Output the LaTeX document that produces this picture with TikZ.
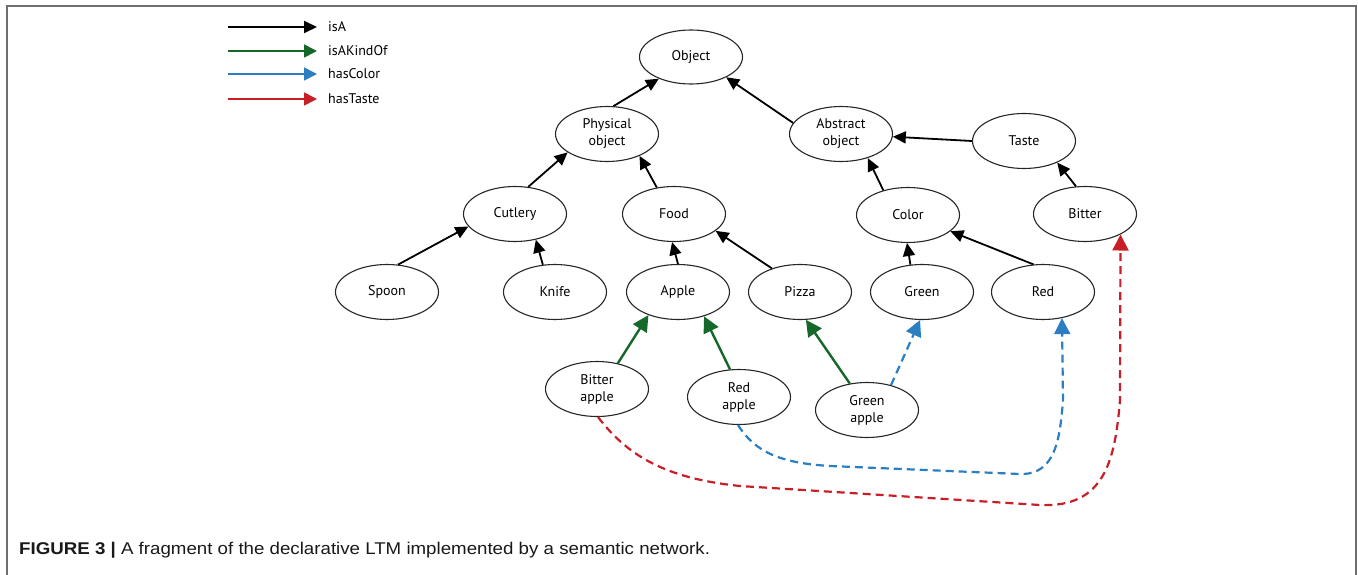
\documentclass[tikz,border=0pt]{standalone}
\usepackage{fontspec}
\setsansfont{PT Sans}
\newfontfamily\capfont{Liberation Sans}
\usetikzlibrary{arrows.meta,shapes.geometric}
\definecolor{kgreen}{RGB}{22,104,42}
\definecolor{kblue}{RGB}{43,126,193}
\definecolor{kred}{RGB}{200,30,38}
\definecolor{kframe}{RGB}{110,110,110}
\begin{document}
\begin{tikzpicture}[x=1pt,y=-1pt,
  concept/.style={ellipse,draw=black!85,line width=1.1pt,minimum width=103pt,minimum height=55pt,inner sep=0pt,font=\sffamily\fontsize{14}{17}\selectfont,align=center},
  legtext/.style={anchor=west,inner sep=0pt,font=\sffamily\fontsize{14}{17}\selectfont},
  isa/.style={line width=1.8pt,-{Triangle[length=13pt,width=12pt]}},
  kind/.style={kgreen,line width=2.4pt,-{Triangle[length=16pt,width=16pt]}},
  colorline/.style={kblue,line width=2.2pt,-{Triangle[length=16pt,width=16pt]}},
  tasteline/.style={kred,line width=2.2pt,-{Triangle[length=16pt,width=16pt]}},
  dashline/.style={dash pattern=on 8pt off 5pt}
]
\useasboundingbox (0,0) rectangle (1358,575);
\draw[kframe,line width=1.5pt] (7,575) -- (7,6) -- (1356,6) -- (1356,575);

% legend
\coordinate (la1) at (228,27);  \coordinate (lb1) at (317,27);
\coordinate (la2) at (228,51);  \coordinate (lb2) at (317,51);
\coordinate (la3) at (228,74);  \coordinate (lb3) at (317,74);
\coordinate (la4) at (228,99);  \coordinate (lb4) at (317,99);
\draw[isa] (la1) -- (lb1);
\draw[kind,line width=1.8pt,-{Triangle[length=13pt,width=13pt]}] (la2) -- (lb2);
\draw[colorline,line width=1.8pt,-{Triangle[length=13pt,width=13pt]}] (la3) -- (lb3);
\draw[tasteline,line width=1.8pt,-{Triangle[length=13pt,width=13pt]}] (la4) -- (lb4);
\node[legtext] (lt1) at (328,27) {isA};
\node[legtext] (lt2) at (328,51) {isAKindOf};
\node[legtext] (lt3) at (328,74) {hasColor};
\node[legtext] (lt4) at (328,99) {hasTaste};

% nodes
\node[concept,minimum height=54pt] (obj) at (691,57) {Object};
\node[concept] (po) at (607,134) {Physical\\object};
\node[concept] (ao) at (841,134) {Abstract\\object};
\node[concept] (taste) at (1024,141) {Taste};
\node[concept] (cut) at (515,214) {Cutlery};
\node[concept] (food) at (674,214) {Food};
\node[concept] (color) at (908,215) {Color};
\node[concept] (bitter) at (1085,214) {Bitter};
\node[concept] (spoon) at (387,292) {Spoon};
\node[concept] (knife) at (555,292) {Knife};
\node[concept] (apple) at (678,292) {Apple};
\node[concept] (pizza) at (800,292) {Pizza};
\node[concept] (green) at (922,292) {Green};
\node[concept] (red) at (1043,292) {Red};
\node[concept] (ba) at (597,389) {Bitter\\apple};
\node[concept] (ra) at (739,397) {Red\\apple};
\node[concept] (ga) at (867,410) {Green\\apple};

% isA
\draw[isa] (po.77) -- (obj.214);
\draw[isa] (ao.167) -- (obj.330);
\draw[isa] (cut.64) -- (po.205);
\draw[isa] (food.123) -- (po.326);
\draw[isa] (spoon.68) -- (cut.195);
\draw[isa] (knife.114) -- (cut.309);
\draw[isa] (apple.90) -- (food.266);
\draw[isa] (pizza.140) -- (food.338);
\draw[isa] (color.135) -- (ao.318);
\draw[isa] (taste.180) -- (ao.357);
\draw[isa] (bitter.108) -- (taste.327);
\draw[isa] (green.113) -- (color.268);
\draw[isa] (red.109) -- (color.339);

% isAKindOf
\draw[kind] (ba.51) -- (apple.218);
\draw[kind] (ra.108) -- (apple.317);
\draw[kind] (ga.123) -- (pizza.282);

% hasColor
\draw[colorline,dashline] (ga.46) -- (green.266);
\coordinate (b1) at (830,466);
\coordinate (b2) at (1020,474);
\coordinate (b3) at (1063,400);
\draw[colorline,dashline] (ra.268) .. controls (755,452) and (780,463) .. (b1) -- (b2)
  .. controls (1055,475) and (1060,440) .. (b3) -- (red.306);

% hasTaste
\coordinate (r1) at (740,486);
\coordinate (r2) at (1040,505);
\coordinate (r3) at (1120,400);
\draw[tasteline,dashline] (ba.272) .. controls (625,452) and (660,478) .. (r1) -- (r2)
  .. controls (1105,508) and (1115,460) .. (r3) -- (bitter.330);

% caption
\node[anchor=base west,inner sep=0pt,font=\capfont\fontsize{17}{19}\selectfont,text=black!90] (cap) at (19,554)
  {\scalebox{1.1}[1]{\textbf{FIGURE 3 |} A fragment of the declarative LTM implemented by a semantic network.}};
\end{tikzpicture}
\end{document}
